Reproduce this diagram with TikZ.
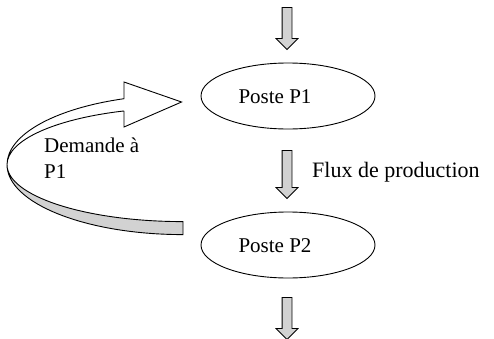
\documentclass[tikz,border=0pt]{standalone}
\usepackage{fontspec}
\setmainfont{Liberation Serif}
\usetikzlibrary{shapes.geometric,shapes.arrows,calc}
\tikzset{
  poste/.style={draw, ellipse, line width=0.9pt, minimum width=174pt, minimum height=66pt, inner sep=0pt},
  txt/.style={font=\fontsize{21}{26}\selectfont, inner sep=0pt, align=left},
  flow/.style={draw, single arrow, shape border rotate=270, fill=gray!35, line width=0.8pt,
               minimum height=42pt, single arrow head extend=6pt,
               single arrow head indent=0pt, inner sep=4.5pt},
  loopface/.style={draw, line width=0.9pt, fill=white},
  loopback/.style={draw, line width=0.9pt, fill=gray!35},
}

\begin{document}
\begin{tikzpicture}[x=1pt,y=1pt]
  \useasboundingbox (0,0) rectangle (494,338);
  \node[flow] (in) at (287,312) {};
  \node[poste] (P1) at (288,242) {};
  \node[txt] (P1txt) at (275,241) {Poste P1};
  \node[flow, minimum height=48pt] (mid) at (287,166) {};
  \node[txt, anchor=west, font=\fontsize{22}{26}\selectfont] (flux) at (312,166) {Flux de production};
  \node[poste] (P2) at (288,93) {};
  \node[txt] (P2txt) at (275,92) {Poste P2};
  \node[flow] (out) at (287,22) {};
  \node[txt, anchor=west] (dem) at (44,180) {Demande à\\P1};
  % curved return arrow
  \coordinate (loop) at (183,173.4);
  \coordinate (tip) at ($(P1.west)+(-19,-6)$);
  \draw[loopback] ($(loop)+(-176,0)$) arc[start angle=180, end angle=270, x radius=176, y radius=70]
    -- ++(0,13) arc[start angle=270, end angle=180, x radius=176, y radius=57] -- cycle;
  \draw[loopface] (124,227.1) -- (124,211) -- (tip) -- (124,256) -- (124,239.3)
    arc[start angle=109.6, end angle=180, x radius=176, y radius=70]
    arc[start angle=180, end angle=109.6, x radius=176, y radius=57] -- cycle;
\end{tikzpicture}
\end{document}
